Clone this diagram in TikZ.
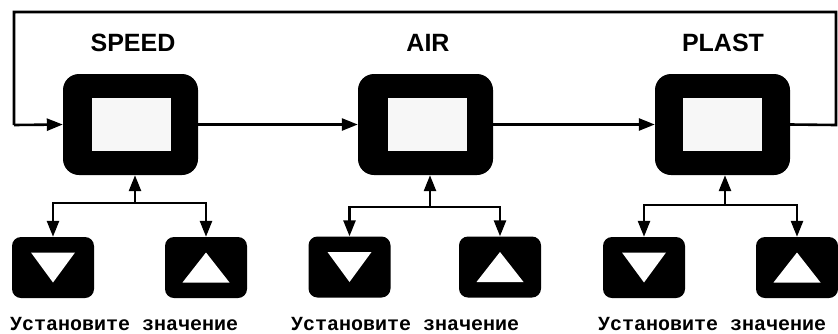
\documentclass[tikz,border=0pt]{standalone}
\usepackage{fontspec}
\setmainfont{Liberation Sans}
\newfontfamily\monofnt{Liberation Mono}
\usetikzlibrary{arrows.meta}
\begin{document}
\begin{tikzpicture}[x=1pt,y=-1pt,
  dispbox/.style={fill=black, rounded corners=16pt, minimum width=135pt, minimum height=101pt, inner sep=0pt},
  screen/.style={fill=white!97!black, minimum width=79pt, minimum height=53pt, inner sep=0pt},
  btn/.style={fill=black, rounded corners=9pt, minimum width=82pt, minimum height=61pt, inner sep=0pt},
  tri/.style={fill=white},
  lbl/.style={font=\fontsize{25}{28}\selectfont\bfseries, inner sep=0pt},
  captxt/.style={font=\monofnt\fontsize{20}{22}\selectfont\bfseries, anchor=base west, inner sep=0pt},
  conn/.style={line width=2.6pt},
  arr/.style={conn, -{Triangle[length=16pt,width=12pt]}}
]
\useasboundingbox (0,0) rectangle (838,333);

% display boxes
\node[dispbox] (S) at (130.5,124.5) {};
\node[screen] (Ss) at (131,124.5) {};
\node[dispbox] (A) at (425.5,124.5) {};
\node[screen] (As) at (427,124.5) {};
\node[dispbox] (P) at (722.5,124.5) {};
\node[screen] (Ps) at (722.5,124.5) {};

% labels
\node[lbl] (Sl) at (133,43) {SPEED};
\node[lbl] (Al) at (428,43) {AIR};
\node[lbl] (Pl) at (723,43) {PLAST};

% buttons
\node[btn] (S1) at (53,267.5) {};
\node[btn] (S2) at (206,267.5) {};
\node[btn] (A1) at (349.5,267) {};
\node[btn] (A2) at (500,267) {};
\node[btn] (P1) at (644,267.5) {};
\node[btn] (P2) at (797,267.5) {};

% triangles
\foreach \n in {S1,A1,P1}{
  \fill[tri] ([shift={(-22pt,15pt)}]\n.center) -- ([shift={(22pt,15pt)}]\n.center) -- ([shift={(0pt,-15pt)}]\n.center) -- cycle;
}
\foreach \n in {S2,A2,P2}{
  \fill[tri] ([shift={(-23.5pt,-15pt)}]\n.center) -- ([shift={(23.5pt,-15pt)}]\n.center) -- ([shift={(0pt,15pt)}]\n.center) -- cycle;
}

% main chain
\coordinate (L1) at (836,125);
\coordinate (L2) at (836,12);
\coordinate (L3) at (14,12);
\coordinate (L4) at (14,125);
\draw[arr] (S.east) -- (A.west);
\draw[arr] (A.east) -- (P.west);
\draw[conn, line join=miter] (P.east) -- (L1) -- (L2) -- (L3) -- (L4);
\draw[arr] (L4) -- (S.west);

% branches
\coordinate (Sj) at (135,203);
\coordinate (Aj) at (430,207);
\coordinate (Pj) at (725,205);
\foreach \j/\b/\d/\u in {Sj/S/S1/S2, Aj/A/A1/A2, Pj/P/P1/P2}{
  \draw[arr] (\j) -- (\j |- \b.south);
  \draw[arr] (\j) -| (\d.north);
  \draw[arr] (\j) -| (\u.north);
}

% captions
\node[captxt] (Sc) at (10,330) {Установите значение};
\node[captxt] (Ac) at (291,330) {Установите значение};
\node[captxt] (Pc) at (598,330) {Установите значение};
\end{tikzpicture}
\end{document}
